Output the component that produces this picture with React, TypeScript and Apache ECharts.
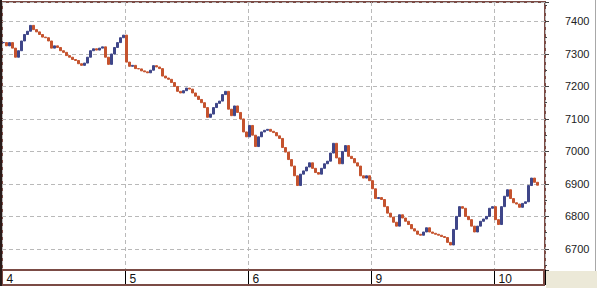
import React, { useEffect, useRef } from "react";
import * as echarts from "echarts";

// Day labels shown on the time axis
const days = ["4", "5", "6", "9", "10"];
const slotsPerDay = 41;
const totalSlots = 181;

// Price path, one value per ~3px slot
const day4 = [
  7335, 7325, 7335, 7318, 7290, 7310, 7340, 7360, 7370, 7388,
  7375, 7368, 7360, 7352, 7350, 7340, 7318, 7325, 7320, 7310,
  7305, 7295, 7290, 7283, 7280, 7270, 7265, 7272, 7290, 7310,
  7316, 7312, 7318, 7322, 7290, 7268, 7300, 7320, 7335, 7350,
  7358,
];
const day5 = [
  7275, 7262, 7265, 7255, 7254, 7248, 7245, 7242, 7250, 7264,
  7260, 7255, 7232, 7226, 7222, 7212, 7200, 7185, 7180, 7187,
  7195, 7192, 7180, 7170, 7160, 7150, 7135, 7105, 7115, 7135,
  7148, 7155, 7175, 7185, 7130, 7110, 7140, 7120, 7100, 7060,
  7045,
];
const day6 = [
  7080, 7050, 7015, 7045, 7060, 7065, 7068, 7062, 7058, 7048,
  7040, 7012, 6998, 6975, 6955, 6925, 6895, 6930, 6940, 6952,
  6965, 6948, 6935, 6930, 6948, 6962, 6970, 6995, 7025, 6980,
  6962, 7000, 7018, 6985, 6978, 6965, 6955, 6925, 6918, 6925,
  6910,
];
const day9 = [
  6885, 6855, 6858, 6852, 6830, 6810, 6798, 6782, 6770, 6805,
  6795, 6785, 6775, 6762, 6755, 6745, 6742, 6752, 6765, 6752,
  6748, 6745, 6742, 6738, 6735, 6720, 6712, 6760, 6800, 6830,
  6825, 6800, 6790, 6770, 6752, 6770, 6785, 6792, 6800, 6825,
  6830,
];
const day10 = [
  6790, 6775, 6830, 6862, 6882, 6855, 6842, 6838, 6828, 6840,
  6845, 6895, 6918, 6905, 6896,
];

const yMin = 6635;
const yMax = 7460;

const BORDER = "#7b4b45";
const GRID = "#b9b9b9";
const UP = "#3f4689";
const DOWN = "#c5532e";

export default function App() {
  const ref = useRef<HTMLDivElement>(null);

  useEffect(() => {
    if (!ref.current) return;
    const chart = echarts.init(ref.current, undefined, { renderer: "svg" });

    const closes = [...day4, ...day5, ...day6, ...day9, ...day10];
    const categories: string[] = [];
    for (let i = 0; i < totalSlots; i++) {
      const d = days[Math.floor(i / slotsPerDay)];
      categories.push(i % slotsPerDay === 0 ? d : `${d}·${i % slotsPerDay}`);
    }
    const candles = closes.map((c, i) => {
      const o = i === 0 ? c : closes[i - 1];
      return [o, c, Math.min(o, c), Math.max(o, c)];
    });

    const isDayStart = (idx: number) => idx % slotsPerDay === 0;

    chart.setOption({
      animation: false,
      backgroundColor: "#ffffff",
      grid: {
        left: 2,
        top: 2,
        right: 52,
        bottom: 18,
        show: true,
        borderColor: BORDER,
        borderWidth: 2,
        backgroundColor: "#ffffff",
      },
      xAxis: {
        type: "category",
        data: categories,
        boundaryGap: true,
        axisLine: { show: true, lineStyle: { color: BORDER, width: 2 } },
        axisTick: {
          show: true,
          interval: (idx: number) => isDayStart(idx),
          length: 15,
          lineStyle: { color: "#000000", width: 1 },
        },
        axisLabel: {
          interval: (idx: number) => isDayStart(idx),
          formatter: (v: string) => v.split("·")[0],
          align: "left",
          margin: 3,
          padding: [0, 0, 0, 3],
          color: "#111111",
          fontSize: 12,
          fontFamily: "Liberation Sans, Arial, sans-serif",
        },
        splitLine: {
          show: true,
          interval: (idx: number) => isDayStart(idx),
          lineStyle: { color: GRID, type: [4, 3], width: 1 },
        },
      },
      yAxis: {
        type: "value",
        position: "right",
        min: yMin,
        max: yMax,
        splitNumber: 8,
        axisLine: { show: false },
        axisTick: { show: true, length: 4, lineStyle: { color: "#444444" } },
        minorTick: { show: true, splitNumber: 2, length: 2, lineStyle: { color: "#444444" } },
        axisLabel: {
          showMinLabel: false,
          showMaxLabel: false,
          margin: 20,
          formatter: (v: number) => String(Math.round(v)),
          color: "#222222",
          fontSize: 11,
          fontFamily: "Liberation Sans, Arial, sans-serif",
        },
        splitLine: {
          show: true,
          lineStyle: { color: GRID, type: [4, 3], width: 1 },
        },
      },
      series: [
        {
          type: "candlestick",
          data: candles,
          barWidth: 2,
          itemStyle: {
            color: UP,
            color0: DOWN,
            borderColor: UP,
            borderColor0: DOWN,
            borderWidth: 1,
          },
        },
      ],
      graphic: [
        {
          type: "rect",
          silent: true,
          z: 100,
          shape: { x: 2, y: 270, width: 542, height: 15 },
          style: { fill: "transparent", stroke: BORDER, lineWidth: 2 },
        },
        {
          type: "line",
          silent: true,
          z: 101,
          shape: { x1: 1, y1: 0, x2: 1, y2: 286 },
          style: { stroke: "#2a1a18", lineWidth: 2 },
        },
        {
          type: "rect",
          silent: true,
          z: 100,
          shape: { x: 546, y: 271, width: 51, height: 17 },
          style: { fill: "#ece9d8" },
        },
        {
          type: "line",
          silent: true,
          z: 100,
          shape: { x1: 595.5, y1: 0, x2: 595.5, y2: 271 },
          style: { stroke: "#a8a8a8", lineWidth: 1 },
        },
      ],
    });

    return () => chart.dispose();
  }, []);

  return (
    <div
      ref={ref}
      style={{ position: "absolute", left: 0, top: 0, width: 597, height: 288 }}
    />
  );
}
